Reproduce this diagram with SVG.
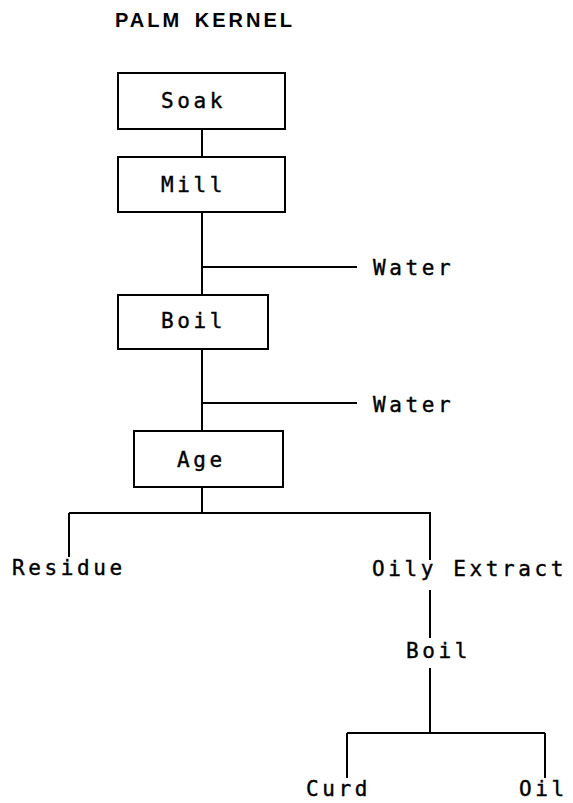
<svg xmlns="http://www.w3.org/2000/svg" width="573" height="803" viewBox="0 0 573 803">
<style>
.box{fill:#fff;stroke:#000;stroke-width:2}
.ln{stroke:#000;stroke-width:2;fill:none}
.t{font-family:"DejaVu Sans Mono","Liberation Mono",monospace;font-size:21px;letter-spacing:3.6px;fill:#000;stroke:#000;stroke-width:0.4}
.title{font-family:"Liberation Sans",Arial,sans-serif;font-size:20px;font-weight:bold;letter-spacing:3px;word-spacing:4px;fill:#000}
</style>
<rect width="573" height="803" fill="#fff"/>
<text class="title" x="115" y="27">PALM KERNEL</text>
<g id="connectors">
<line class="ln" x1="202" y1="129" x2="202" y2="157"/>
<line class="ln" x1="202" y1="212" x2="202" y2="295"/>
<line class="ln" x1="202" y1="267" x2="357" y2="267"/>
<line class="ln" x1="202" y1="349" x2="202" y2="431"/>
<line class="ln" x1="202" y1="403" x2="357" y2="403"/>
<line class="ln" x1="202" y1="487" x2="202" y2="513"/>
<line class="ln" x1="69" y1="513" x2="431" y2="513"/>
<line class="ln" x1="69" y1="513" x2="69" y2="557"/>
<line class="ln" x1="430" y1="513" x2="430" y2="560"/>
<line class="ln" x1="430" y1="590" x2="430" y2="638"/>
<line class="ln" x1="430" y1="668" x2="430" y2="733"/>
<line class="ln" x1="347" y1="733" x2="545" y2="733"/>
<line class="ln" x1="347" y1="733" x2="347" y2="778"/>
<line class="ln" x1="545" y1="733" x2="545" y2="778"/>
</g>
<g id="soak"><rect class="box" x="118" y="73" width="167" height="56"/><text class="t" x="161" y="108">Soak</text></g>
<g id="mill"><rect class="box" x="118" y="157" width="167" height="55"/><text class="t" x="161" y="192">Mill</text></g>
<g id="water1"><text class="t" x="373" y="275">Water</text></g>
<g id="boil1"><rect class="box" x="118" y="295" width="150" height="54"/><text class="t" x="161" y="328">Boil</text></g>
<g id="water2"><text class="t" x="373" y="412">Water</text></g>
<g id="age"><rect class="box" x="134" y="431" width="149" height="56"/><text class="t" x="177" y="467">Age</text></g>
<g id="residue"><text class="t" x="12" y="575">Residue</text></g>
<g id="oily"><text class="t" x="372" y="576">Oily Extract</text></g>
<g id="boil2"><text class="t" x="406" y="658">Boil</text></g>
<g id="curd"><text class="t" x="306" y="796">Curd</text></g>
<g id="oil"><text class="t" x="519" y="796">Oil</text></g>
</svg>
